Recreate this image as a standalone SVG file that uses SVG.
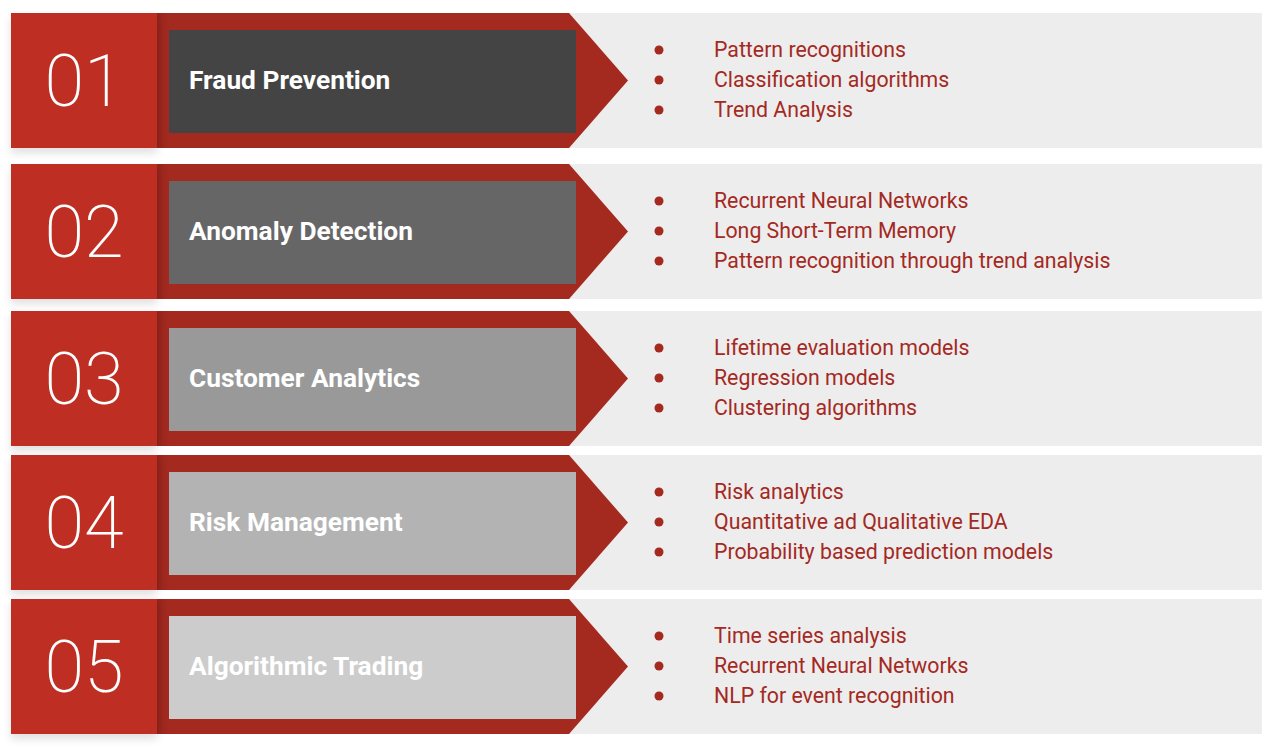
<svg xmlns="http://www.w3.org/2000/svg" width="1277" height="752" viewBox="0 0 1277 752">
<style>
.bg{fill:#EDEDED}
.num{fill:#BE2F21}
.arr{fill:#A4291F}
.numtxt{font-family:Roboto,"Liberation Sans",sans-serif;font-weight:200;font-size:72px;fill:#fff;text-anchor:middle}
.title{font-family:Roboto,"Liberation Sans",sans-serif;font-weight:700;font-size:26.3px;fill:#fff}
.item{font-family:Roboto,"Liberation Sans",sans-serif;font-size:21.3px;fill:#A4291F}
.dot{fill:#A4291F}
</style>
<defs>
<filter id="sh" x="-20%" y="-20%" width="140%" height="160%">
<feDropShadow dx="0" dy="5" stdDeviation="4" flood-color="#000" flood-opacity="0.12"/>
</filter>
<linearGradient id="edge" x1="0" y1="0" x2="1" y2="0">
<stop offset="0" stop-color="#7A1C15" stop-opacity="0.5"/>
<stop offset="1" stop-color="#A4291F" stop-opacity="0"/>
</linearGradient>
</defs>

<g id="row1">
<rect class="bg" x="560" y="13" width="702" height="135"/>
<polygon class="arr" points="157,13 569,13 628,80.5 569,148 157,148"/>
<rect x="157" y="13" width="14" height="135" fill="url(#edge)"/>
<rect x="169" y="30" width="407" height="103" fill="#444444"/>
<rect class="num" x="11" y="13" width="146" height="135" filter="url(#sh)"/>
<text class="numtxt" x="84" y="106">01</text>
<text class="title" x="189" y="89">Fraud Prevention</text>
<circle class="dot" cx="659" cy="50" r="4.5"/><text class="item" x="714" y="57">Pattern recognitions</text>
<circle class="dot" cx="659" cy="80" r="4.5"/><text class="item" x="714" y="87">Classification algorithms</text>
<circle class="dot" cx="659" cy="110" r="4.5"/><text class="item" x="714" y="117">Trend Analysis</text>
</g>

<g id="row2">
<rect class="bg" x="560" y="164" width="702" height="135"/>
<polygon class="arr" points="157,164 569,164 628,231.5 569,299 157,299"/>
<rect x="157" y="164" width="14" height="135" fill="url(#edge)"/>
<rect x="169" y="181" width="407" height="103" fill="#666666"/>
<rect class="num" x="11" y="164" width="146" height="135" filter="url(#sh)"/>
<text class="numtxt" x="84" y="257">02</text>
<text class="title" x="189" y="240">Anomaly Detection</text>
<circle class="dot" cx="659" cy="201" r="4.5"/><text class="item" x="714" y="208">Recurrent Neural Networks</text>
<circle class="dot" cx="659" cy="231" r="4.5"/><text class="item" x="714" y="238">Long Short-Term Memory</text>
<circle class="dot" cx="659" cy="261" r="4.5"/><text class="item" x="714" y="268">Pattern recognition through trend analysis</text>
</g>

<g id="row3">
<rect class="bg" x="560" y="311" width="702" height="135"/>
<polygon class="arr" points="157,311 569,311 628,378.5 569,446 157,446"/>
<rect x="157" y="311" width="14" height="135" fill="url(#edge)"/>
<rect x="169" y="328" width="407" height="103" fill="#999999"/>
<rect class="num" x="11" y="311" width="146" height="135" filter="url(#sh)"/>
<text class="numtxt" x="84" y="404">03</text>
<text class="title" x="189" y="387">Customer Analytics</text>
<circle class="dot" cx="659" cy="348" r="4.5"/><text class="item" x="714" y="355">Lifetime evaluation models</text>
<circle class="dot" cx="659" cy="378" r="4.5"/><text class="item" x="714" y="385">Regression models</text>
<circle class="dot" cx="659" cy="408" r="4.5"/><text class="item" x="714" y="415">Clustering algorithms</text>
</g>

<g id="row4">
<rect class="bg" x="560" y="455" width="702" height="135"/>
<polygon class="arr" points="157,455 569,455 628,522.5 569,590 157,590"/>
<rect x="157" y="455" width="14" height="135" fill="url(#edge)"/>
<rect x="169" y="472" width="407" height="103" fill="#B3B3B3"/>
<rect class="num" x="11" y="455" width="146" height="135" filter="url(#sh)"/>
<text class="numtxt" x="84" y="548">04</text>
<text class="title" x="189" y="531">Risk Management</text>
<circle class="dot" cx="659" cy="492" r="4.5"/><text class="item" x="714" y="499">Risk analytics</text>
<circle class="dot" cx="659" cy="522" r="4.5"/><text class="item" x="714" y="529">Quantitative ad Qualitative EDA</text>
<circle class="dot" cx="659" cy="552" r="4.5"/><text class="item" x="714" y="559">Probability based prediction models</text>
</g>

<g id="row5">
<rect class="bg" x="560" y="599" width="702" height="135"/>
<polygon class="arr" points="157,599 569,599 628,666.5 569,734 157,734"/>
<rect x="157" y="599" width="14" height="135" fill="url(#edge)"/>
<rect x="169" y="616" width="407" height="103" fill="#CCCCCC"/>
<rect class="num" x="11" y="599" width="146" height="135" filter="url(#sh)"/>
<text class="numtxt" x="84" y="692">05</text>
<text class="title" x="189" y="675">Algorithmic Trading</text>
<circle class="dot" cx="659" cy="636" r="4.5"/><text class="item" x="714" y="643">Time series analysis</text>
<circle class="dot" cx="659" cy="666" r="4.5"/><text class="item" x="714" y="673">Recurrent Neural Networks</text>
<circle class="dot" cx="659" cy="696" r="4.5"/><text class="item" x="714" y="703">NLP for event recognition</text>
</g>
</svg>
